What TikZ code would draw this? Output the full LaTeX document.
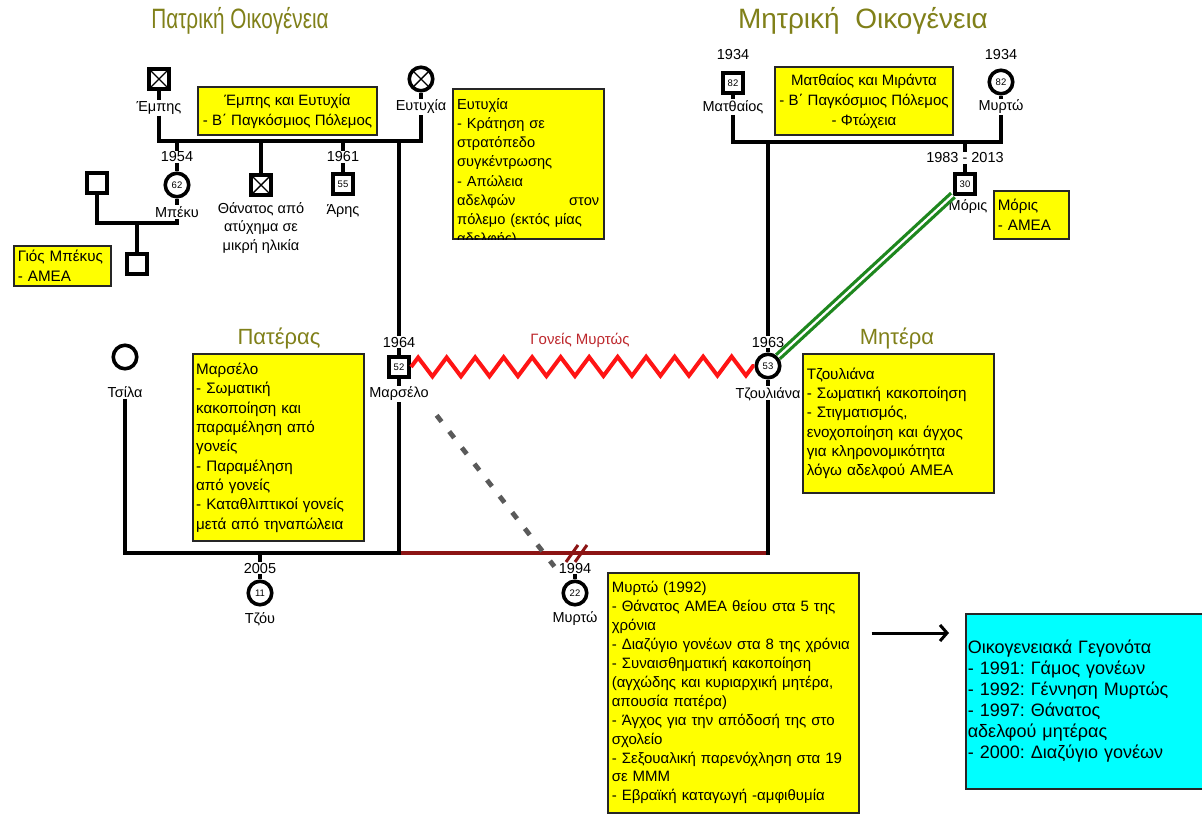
\documentclass[tikz,border=0pt]{standalone}
\usepackage{fontspec}
\setmainfont{Liberation Sans}
\newfontfamily\ttlfont[FakeStretch=0.74]{Liberation Sans}
\usetikzlibrary{decorations.pathmorphing,arrows.meta}
\definecolor{olivet}{RGB}{128,128,25}
\definecolor{zzred}{RGB}{255,20,20}
\definecolor{lblred}{RGB}{190,40,45}
\definecolor{maroonl}{RGB}{140,20,20}
\definecolor{greenl}{RGB}{30,135,30}
\definecolor{dgray}{RGB}{90,90,90}
\definecolor{ybg}{RGB}{255,255,0}
\definecolor{cbg}{RGB}{0,255,255}
\frenchspacing
\tikzset{
  fam/.style={line width=4.2pt},
  lab/.style={font=\fontsize{14.5}{18.5}\selectfont, inner sep=1pt},
  ttl/.style={font=\ttlfont\fontsize{28}{30}\selectfont, text=olivet},
  ttlw/.style={font=\fontsize{28}{30}\selectfont, text=olivet},
  sttl/.style={font=\fontsize{22}{24}\selectfont, text=olivet},
  msq/.style={draw, line width=3.6pt, minimum size=20.5pt, inner sep=0pt, fill=white, font=\fontsize{9.5}{9.5}\selectfont},
  fci/.style={circle, draw, line width=3.6pt, minimum size=23.5pt, inner sep=0pt, fill=white, font=\fontsize{9.5}{9.5}\selectfont},
  crossed/.style={path picture={\draw[line width=1.4pt] (path picture bounding box.north west) -- (path picture bounding box.south east) (path picture bounding box.north east) -- (path picture bounding box.south west);}},
  crossnum/.style={path picture={\draw[line width=0.9pt] (path picture bounding box.north west) -- (path picture bounding box.south east) (path picture bounding box.north east) -- (path picture bounding box.south west); \node[fill=white, inner sep=0.6pt, font=\fontsize{9.5}{9.5}\selectfont] at (path picture bounding box.center) {#1};}},
  ybox/.style={draw=black!85, line width=1.6pt, fill=ybg, inner xsep=4pt, inner ysep=0pt},
  btxt/.style={font=\fontsize{15.2}{19.3}\selectfont, align=left, inner sep=0pt},
}
\begin{document}
\begin{tikzpicture}[x=1pt,y=-1pt]
\clip (0,0) rectangle (1202,815);
\fill[white] (0,0) rectangle (1202,815);

% titles
\node[ttl] (t1) at (240,21) {Πατρική Οικογένεια};
\node[ttlw] (t2) at (863,21) {Μητρική\ \ Οικογένεια};

% ---------- paternal family ----------
\node[msq, crossed] (E) at (159,79) {};
\node[lab] (El) at (159,108) {Έμπης};
\node[fci, crossed] (Y) at (421,79) {};
\node[lab] (Yl) at (421,107) {Ευτυχία};
\coordinate (mL) at (159,141);
\coordinate (mR) at (421,141);
\draw[fam] (E.south) -- (El.north);
\draw[fam] (Y.south) -- (Yl.north);
\draw[fam] (El.south) -- (mL) -- (mR) -- (Yl.south);

\node[ybox, minimum width=179pt, minimum height=48pt, align=center, font=\fontsize{15}{20}\selectfont] (bEY) at (287.5,111) {Έμπης και Ευτυχία\\- Β΄ Παγκόσμιος Πόλεμος};

% children
\coordinate (cBk) at (177,141);
\node[lab] (Bky) at (177,157) {1954};
\node[fci] (Bk) at (177,185) {62};
\node[lab] (Bkl) at (177,212) {Μπέκυ};
\draw[fam] (cBk) -- (Bky.north);
\draw[fam] (Bky.south) -- (Bk.north);
\draw[fam] (Bk.south) -- (Bkl.north);

\coordinate (cD) at (261,141);
\node[msq, crossed] (D) at (261,185) {};
\node[lab, align=center] (Dl) at (261,228) {Θάνατος από\\ατύχημα σε\\μικρή ηλικία};
\draw[fam] (cD) -- (D.north);

\coordinate (cAr) at (343,141);
\node[lab] (Ary) at (343,157) {1961};
\node[msq] (Ar) at (343,184) {55};
\node[lab] (Arl) at (343,211) {Άρης};
\draw[fam] (cAr) -- (Ary.north);
\draw[fam] (Ary.south) -- (Ar.north);

% Bekys family
\node[msq] (BkH) at (97,183) {};
\node[msq] (BkS) at (137,264) {};
\coordinate (bmL) at (97,223);
\coordinate (bmR) at (177,223);
\coordinate (bmC) at (137,223);
\draw[fam] (BkH.south) -- (bmL) -- (bmR) -- (Bkl.south);
\draw[fam] (bmC) -- (BkS.north);
\node[ybox, anchor=north west, minimum width=97pt, minimum height=40pt, text width=89pt, btxt, inner xsep=4pt] (bGB) at (13,245) {Γιός Μπέκυς\\- ΑΜΕΑ};

% Eutychia box (clipped)
\node[ybox, anchor=north west, minimum width=151pt, minimum height=150pt] (bY) at (452,88) {};
\begin{scope}
\clip (bY.north west) rectangle (bY.south east);
\node[btxt, font=\fontsize{14.6}{19.2}\selectfont, anchor=north west, text width=142pt] (bYt) at (457,98) {Ευτυχία\\- Κράτηση σε\\στρατόπεδο\\συγκέντρωσης\\- Απώλεια\\αδελφών\hfill στον\\πόλεμο (εκτός μίας\\αδελφής)};
\end{scope}

% ---------- maternal family ----------
\node[lab] (Mty) at (733,55) {1934};
\node[msq] (Mt) at (733,83) {82};
\node[lab] (Mtl) at (733,107) {Ματθαίος};
\node[lab] (Mry) at (1001,55) {1934};
\node[fci] (Mr) at (1001,82) {82};
\node[lab] (Mrl) at (1001,107) {Μυρτώ};
\coordinate (mmL) at (733,142);
\coordinate (mmR) at (1001,142);
\draw[fam] (Mt.south) -- (Mtl.north);
\draw[fam] (Mr.south) -- (Mrl.north);
\draw[fam] (Mtl.south) -- (mmL) -- (mmR) -- (Mrl.south);

\node[ybox, minimum width=178pt, minimum height=68pt, align=center, font=\fontsize{15}{20}\selectfont] (bMM) at (864,101) {Ματθαίος και Μιράντα\\- Β΄ Παγκόσμιος Πόλεμος\\- Φτώχεια};

\coordinate (cMo) at (965,142);
\node[lab] (Moy) at (965,158) {1983 - 2013};
\node[msq, crossnum=30] (Mo) at (965,184) {};
\node[lab] (Mol) at (968,207) {Μόρις};
\draw[fam] (cMo) -- (Moy.north);
\draw[fam] (Moy.south) -- (Mo.north);
\node[ybox, anchor=north west, minimum width=75pt, minimum height=48pt, text width=67pt, btxt, inner xsep=4pt] (bMo) at (993,190) {Μόρις\\- ΑΜΕΑ};

% ---------- parents ----------
\node[lab] (May) at (399,342) {1964};
\node[msq] (Ma) at (399,367) {52};
\node[lab] (Mal) at (399,394) {Μαρσέλο};
\node[lab] (Tzy) at (768,342) {1963};
\node[fci] (Tz) at (768,366) {53};
\node[lab] (Tzl) at (768,394) {Τζουλιάνα};
\node[fci] (Ts) at (125,357) {};
\node[lab] (Tsl) at (125,392) {Τσίλα};

\coordinate (cMa) at (399,141);
\coordinate (cTz) at (768,142);
\draw[fam] (cMa) -- (May.north);
\draw[fam] (May.south) -- (Ma.north);
\draw[fam] (Ma.south) -- (Mal.north);
\draw[fam] (cTz) -- (Tzy.north);
\draw[fam] (Tzy.south) -- (Tz.north);
\draw[fam] (Tz.south) -- (Tzl.north);

\draw[zzred, line width=4pt, line join=miter, decorate, decoration={zigzag, segment length=28.5pt, amplitude=9.5pt}] (Ma.east) -- (Tz.west);
\node[font=\fontsize{15}{16}\selectfont, text=lblred] (gm) at (580,340) {Γονείς Μυρτώς};

\draw[greenl, line width=3.2pt, double=white, double distance=2.2pt] (Mo) -- (Tz);

\node[sttl] (tP) at (279,338) {Πατέρας};
\node[sttl] (tM) at (897,338) {Μητέρα};

% Marcelo box (clipped)
\node[ybox, anchor=north west, minimum width=171pt, minimum height=187pt] (bP) at (192,353) {};
\begin{scope}
\clip (bP.north west) rectangle (bP.south east);
\node[btxt, anchor=north west, text width=163pt] (bPt) at (196,363) {Μαρσέλο\\- Σωματική\\κακοποίηση και\\παραμέληση από\\γονείς\\- Παραμέληση\\από γονείς\\- Καταθλιπτικοί γονείς\\μετά από τηναπώλεια};
\end{scope}

\node[ybox, anchor=north west, minimum width=191pt, minimum height=139pt, text width=183pt, btxt, inner xsep=4pt] (bT) at (802,353) {Τζουλιάνα\\- Σωματική κακοποίηση\\- Στιγματισμός,\\ενοχοποίηση και άγχος\\για κληρονομικότητα\\λόγω αδελφού ΑΜΕΑ};

% ---------- bottom ----------
\coordinate (bL) at (125,553);
\coordinate (bM) at (399,553);
\coordinate (bR) at (768,553);
\draw[fam, maroonl, line cap=rect] (bM) -- (bR);
\draw[fam] (Tsl.south) -- (bL) -- (bM) -- (Mal.south);
\draw[fam, line cap=rect] (Tzl.south) -- (bR);

\draw[maroonl, line width=3pt] (566,562) -- (578,545) (575,562) -- (587,545);

\coordinate (cTj) at (260,553);
\node[lab] (Tjy) at (260,568) {2005};
\node[fci] (Tj) at (260,593) {11};
\node[lab] (Tjl) at (260,619) {Τζόυ};
\draw[fam] (cTj) -- (Tjy.north);
\draw[fam] (Tjy.south) -- (Tj.north);

\node[lab] (Myy) at (575,568) {1994};
\node[fci] (My) at (575,593) {22};
\node[lab] (Myl) at (575,619) {Μυρτώ};
\draw[fam] (Myy.south) -- (My.north);

\draw[dgray, line width=4.8pt, dash pattern=on 8pt off 12.5pt, shorten <=46pt, shorten >=20pt] (Ma) -- (My);

\node[ybox, anchor=north west, minimum width=251pt, minimum height=240pt, text width=243pt, btxt, inner xsep=4pt, font=\fontsize{15}{18.9}\selectfont] (bMy) at (607,572) {Μυρτώ (1992)\\- Θάνατος ΑΜΕΑ θείου στα 5 της\\χρόνια\\- Διαζύγιο γονέων στα 8 της χρόνια\\- Συναισθηματική κακοποίηση\\(αγχώδης και κυριαρχική μητέρα,\\απουσία πατέρα)\\- Άγχος για την απόδοσή της στο\\σχολείο\\- Σεξουαλική παρενόχληση στα 19\\σε ΜΜΜ\\- Εβραϊκή καταγωγή -αμφιθυμία};

\node[draw=black!85, line width=1.6pt, fill=cbg, anchor=north west, minimum width=250pt, minimum height=175pt, text width=246pt, inner xsep=2pt, align=left, font=\fontsize{18}{21}\selectfont] (bC) at (965,613) {Οικογενειακά Γεγονότα\\- 1991: Γάμος γονέων\\- 1992: Γέννηση Μυρτώς\\- 1997: Θάνατος\\αδελφού μητέρας\\- 2000: Διαζύγιο γονέων};

\draw[line width=3pt, -{Straight Barb[length=7pt, width=16pt, line width=3pt]}] ([xshift=12pt, yshift=-61pt]bMy.north east) -- ([xshift=-16pt, yshift=-20pt]bC.north west);
\end{tikzpicture}
\end{document}
